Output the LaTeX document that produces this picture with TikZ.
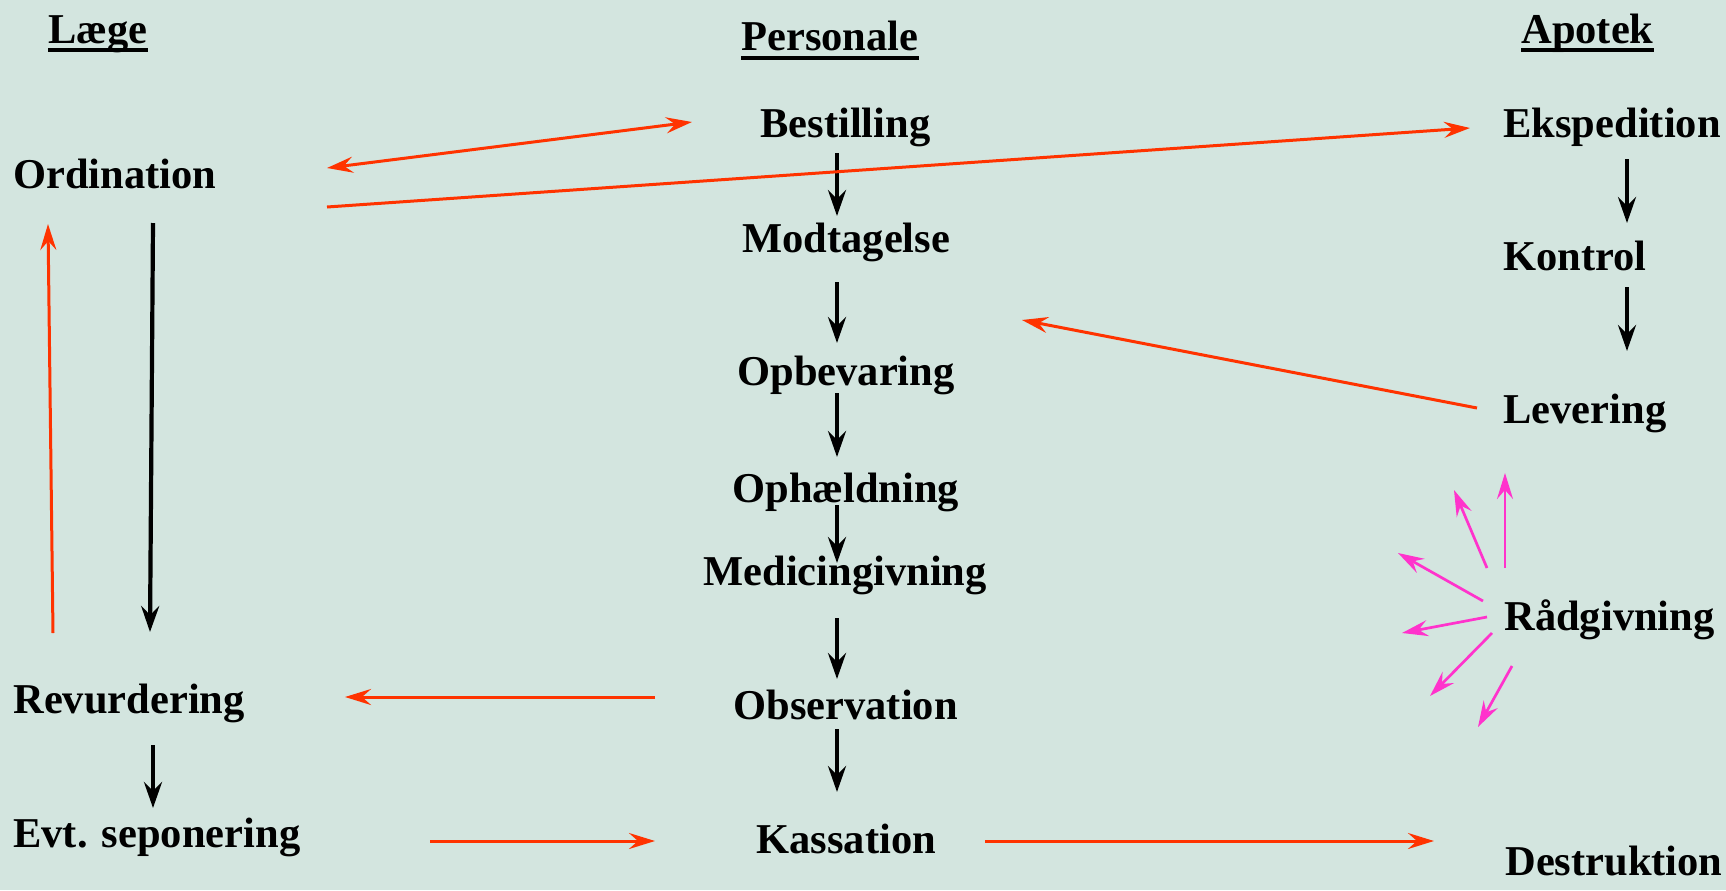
\documentclass[tikz,border=0pt]{standalone}
\usepackage{fontspec}
\setmainfont{Liberation Serif}
\usetikzlibrary{arrows.meta, calc}
\definecolor{bgteal}{RGB}{211,229,223}
\definecolor{linkred}{RGB}{255,51,0}
\definecolor{advpink}{RGB}{255,51,204}
\tikzset{
  blacktip/.tip={Stealth[length=13pt, width=9pt, inset=4.5pt]},
  redtip/.tip={Stealth[length=13pt, width=8pt, inset=4.5pt]}
}

\begin{document}
\begin{tikzpicture}[x=0.5pt, y=-0.5pt,
    task/.style={anchor=base west, inner sep=0pt, font=\bfseries\fontsize{21.25}{25}\selectfont},
    flow/.style={line width=2.1pt, -blacktip},
    link/.style={linkred, line width=1.5pt, -redtip},
    advice/.style={advpink, line width=1.35pt, -redtip},
    uline/.style={line width=1.7pt}]
\useasboundingbox (0,0) rectangle (1726,890);
\fill[bgteal] (0,0) rectangle (1726,890);

%% headings
\node[task] (laege) at (48,43) {Læge};
\node[task] (pers) at (741,50) {Personale};
\node[task] (apo) at (1521,43) {Apotek};
\draw[uline] ($(laege.base west)+(0,7)$) -- ($(laege.base east)+(0,7)$);
\draw[uline] ($(pers.base west)+(0,8)$) -- ($(pers.base east)+(0,8)$);
\draw[uline] ($(apo.base west)+(0,7)$) -- ($(apo.base east)+(0,7)$);

%% Laege
\node[task] (ord) at (13,188) {Ordination};
\node[task] (rev) at (13,713) {Revurdering};
\node[task] (evt) at (13,847) {Evt. seponering};

%% Personale
\node[task] (best) at (760,137) {Bestilling};
\node[task] (modt) at (742,252) {Modtagelse};
\node[task] (opbe) at (737,385) {Opbevaring};
\node[task] (ophae) at (732,502) {Ophældning};
\node[task] (medi) at (703,585) {Medicingivning};
\node[task] (obs) at (733,719) {Observation};
\node[task] (kas) at (756,853) {Kassation};

%% Apotek
\node[task] (eksp) at (1503,137) {Ekspedition};
\node[task] (kont) at (1503,270) {Kontrol};
\node[task] (lev) at (1503,423) {Levering};
\node[task] (radg) at (1504,630) {Rådgivning};
\node[task] (destr) at (1505,875) {Destruktion};

%% black flow
\draw[flow] ($(ord.base west)+(140,35)$) -- ($(rev.base west)+(137,-81)$);
\draw[flow] ($(rev.base west)+(140,32)$) -- ($(evt.base west)+(140,-39)$);
\draw[flow] ($(best.base west)+(77,16)$) -- ($(modt.base west)+(95,-36)$);
\draw[flow] ($(modt.base west)+(95,30)$) -- ($(opbe.base west)+(100,-42)$);
\draw[flow] ($(opbe.base west)+(100,8)$) -- ($(ophae.base west)+(105,-45)$);
\draw[flow] ($(ophae.base west)+(105,3)$) -- ($(medi.base west)+(134,-22)$);
\draw[flow] ($(medi.base west)+(134,33)$) -- ($(obs.base west)+(104,-40)$);
\draw[flow] ($(obs.base west)+(104,10)$) -- ($(kas.base west)+(81,-61)$);
\draw[flow] ($(eksp.base west)+(124,22)$) -- ($(kont.base west)+(124,-47)$);
\draw[flow] ($(kont.base west)+(124,17)$) -- ($(lev.base west)+(124,-72)$);

%% red links
\draw[link, redtip-redtip] ($(ord.base west)+(314,-20)$) -- ($(best.base west)+(-68,-15)$);
\draw[link] ($(ord.base west)+(314,19)$) -- ($(eksp.base west)+(-33,-9)$);
\draw[link] ($(lev.base west)+(-26,-15)$) -- ($(modt.base west)+(280,68)$);
\draw[link] ($(obs.base west)+(-78,-22)$) -- ($(rev.base west)+(332,-16)$);
\draw[link] ($(rev.base west)+(40,-80)$) -- ($(ord.base west)+(35,36)$);
\draw[link] ($(evt.base west)+(417,-6)$) -- ($(kas.base west)+(-101,-12)$);
\draw[link] ($(kas.base west)+(229,-12)$) -- ($(destr.base west)+(-71,-34)$);

%% Raadgivning
\draw[advice] ($(radg.base west)+(1,-62)$) -- ($(radg.base west)+(1,-157)$);
\draw[advice] ($(radg.base west)+(-17,-62)$) -- ($(radg.base west)+(-50,-140)$);
\draw[advice] ($(radg.base west)+(-21,-29)$) -- ($(radg.base west)+(-106,-77)$);
\draw[advice] ($(radg.base west)+(-17,-13)$) -- ($(radg.base west)+(-102,3)$);
\draw[advice] ($(radg.base west)+(-12,3)$) -- ($(radg.base west)+(-74,66)$);
\draw[advice] ($(radg.base west)+(8,36)$) -- ($(radg.base west)+(-26,97)$);
\end{tikzpicture}
\end{document}
